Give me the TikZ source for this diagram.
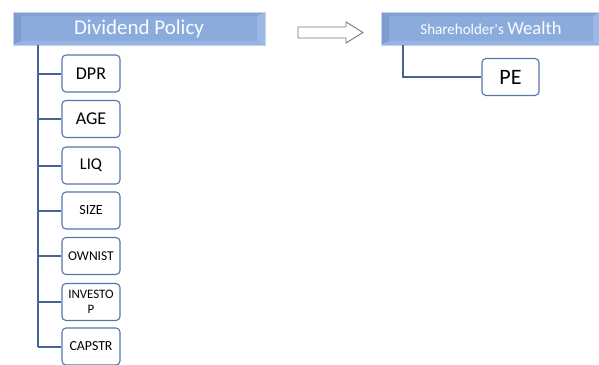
\documentclass[tikz,border=0pt]{standalone}
\usepackage{fontspec}
\setmainfont{Carlito}
\newfontfamily\rawfont{Carlito}
\definecolor{hdrfill}{RGB}{140,171,221}
\definecolor{hdrdark}{RGB}{124,155,208}
\definecolor{hdrlight}{RGB}{156,184,230}
\definecolor{hdredge}{RGB}{196,210,236}
\definecolor{conncol}{RGB}{70,100,150}
\definecolor{boxedge}{RGB}{85,118,170}
\definecolor{arrowedge}{RGB}{120,120,120}
\begin{document}
\begin{tikzpicture}[x=1pt,y=-1pt,
  hdr/.style={rectangle, fill=hdrfill, draw=hdredge, line width=0.8pt, inner sep=0pt, text=white!96!hdrfill},
  child/.style={rectangle, rounded corners=4pt, draw=boxedge, fill=white, line width=1.1pt, minimum width=58pt, minimum height=37pt, inner sep=1pt, align=center},
  conn/.style={draw=conncol, line width=2pt},
  hollowarrow/.style={draw=arrowedge, fill=white, line width=0.9pt}]
\useasboundingbox (0,0) rectangle (599,364);
% header boxes
\node[hdr, minimum width=252pt, minimum height=33pt] (dp) at (139,28.5) {};
\fill[hdrdark] (13,12) -- (21,16) -- (21,41) -- (13,45) -- cycle;
\fill[hdrdark!60!hdrfill] (13,12) -- (265,12) -- (257,16) -- (21,16) -- cycle;
\fill[hdrlight] (265,12) -- (265,45) -- (257,41) -- (257,16) -- cycle;
\fill[hdrlight!60!hdrfill] (13,45) -- (265,45) -- (257,41) -- (21,41) -- cycle;
\draw[hdredge, line width=0.8pt] (13,12) rectangle (265,45);
\node[text=white!96!hdrfill, font=\fontsize{21}{24}\selectfont] at (dp.center) {Dividend Policy};

\node[hdr, minimum width=220pt, minimum height=33pt] (sw) at (491,28.5) {};
\fill[hdrdark] (381,12) -- (389,16) -- (389,41) -- (381,45) -- cycle;
\fill[hdrdark!60!hdrfill] (381,12) -- (601,12) -- (593,16) -- (389,16) -- cycle;
\fill[hdrlight] (601,12) -- (601,45) -- (593,41) -- (593,16) -- cycle;
\fill[hdrlight!60!hdrfill] (381,45) -- (601,45) -- (593,41) -- (389,41) -- cycle;
\draw[hdredge, line width=0.8pt] (381,12) rectangle (601,45);
\node[text=white!96!hdrfill, font=\rawfont\fontsize{15}{18}\selectfont] at (sw.center) {Shareholder's {\fontsize{18.6}{22}\selectfont Wealth}};

% hollow arrow
\draw[hollowarrow] (298,27) -- (346,27) -- (346,22) -- (363,32.5) -- (346,43) -- (346,38) -- (298,38) -- cycle;

% children
\node[child, font=\fontsize{18}{21}\selectfont] (dpr) at (91,73.5) {DPR};
\node[child, font=\fontsize{18}{21}\selectfont] (age) at (91,119) {AGE};
\node[child, font=\fontsize{16.5}{19}\selectfont] (liq) at (91,165.5) {LIQ};
\node[child, font=\fontsize{14}{16}\selectfont] (size) at (91,210.5) {SIZE};
\node[child, font=\fontsize{13.5}{16}\selectfont] (own) at (91,256) {OWNIST};
\node[child, font=\fontsize{12.9}{14.7}\selectfont] (inv) at (91,302) {INVESTO\\P};
\node[child, font=\fontsize{13.8}{16}\selectfont] (cap) at (91,346.5) {CAPSTR};
\node[child, minimum width=57pt, font=\fontsize{22}{25}\selectfont] (pe) at (510.5,77) {PE};

% connectors
\coordinate (trunk) at (38,0);
\coordinate (petrunk) at (403,0);
\draw[conn] (dp.south -| trunk) -- (cap.west -| trunk);
\foreach \n in {dpr,age,liq,size,own,inv,cap}
  \draw[conn] (\n.west -| trunk) -- (\n.west);
\draw[conn] (sw.south -| petrunk) |- (pe.west);
\end{tikzpicture}
\end{document}
